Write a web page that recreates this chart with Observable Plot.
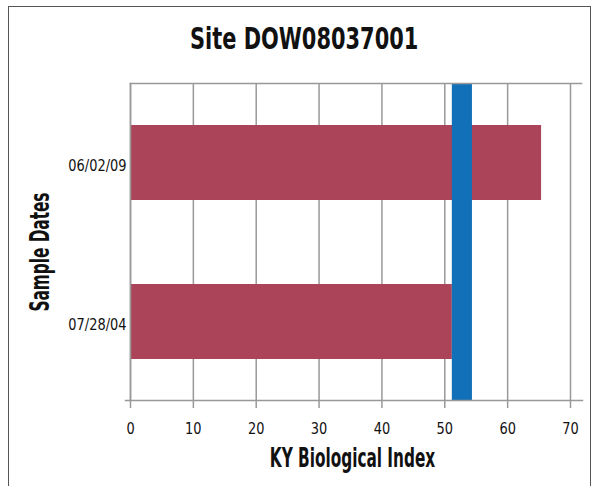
<!DOCTYPE html>
<html>
<head>
<meta charset="utf-8">
<script src="https://cdn.jsdelivr.net/npm/d3@7"></script>
<script src="https://cdn.jsdelivr.net/npm/@observablehq/plot@0.6"></script>
<style>
  html, body { margin: 0; padding: 0; background: #fff; }
  #wrap { position: relative; width: 595px; height: 486px; overflow: hidden; font-family: "DejaVu Sans Condensed", "DejaVu Sans", sans-serif; }
  #border { position: absolute; left: 8px; top: 6px; width: 583px; height: 500px; border: 1.5px solid #555; box-sizing: border-box; }
  #title { position: absolute; left: 6px; top: 18px; width: 595px; text-align: center; font-weight: bold; font-size: 31px; color: #111; line-height: 40px; transform: scaleX(0.75); transform-origin: 300px 0; }
  #chart { position: absolute; left: 0; top: 0; }
</style>
</head>
<body>
<div id="wrap">
  <div id="border"></div>
  <div id="title">Site DOW08037001</div>
  <div id="chart"></div>
</div>
<script>
const dates = ["06/02/09", "07/28/04"];
const values = [65.4, 51.2];
const bandLow = [51.2];
const bandHigh = [54.4];
const xTicks = [0, 10, 20, 30, 40, 50, 60, 70];
const xLabel = "KY Biological Index";
const yLabel = "Sample Dates";

const bars = dates.map((d, i) => ({date: d, value: values[i]}));
const band = bandLow.map((lo, i) => ({lo, hi: bandHigh[i]}));

const font = '"DejaVu Sans Condensed", "DejaVu Sans", sans-serif';

const chart = Plot.plot({
  width: 595,
  height: 486,
  marginTop: 83,
  marginBottom: 86,
  marginLeft: 130,
  marginRight: 25,
  style: {fontFamily: font, fontSize: "16px", color: "#111", background: "transparent", overflow: "visible"},
  x: {domain: [0, 70], ticks: xTicks},
  y: {domain: dates, paddingInner: 0.53, paddingOuter: 0.26},
  marks: [
    Plot.gridX(xTicks, {stroke: "#999", strokeOpacity: 1, strokeWidth: 1.5}),
    Plot.barX(bars, {x: "value", y: "date", fill: "#ab4459"}),
    Plot.rectX(band, {x1: "lo", x2: "hi", fill: "#1170b8"}),
    Plot.frame({anchor: "top", stroke: "#999", strokeWidth: 1.5, insetRight: -11}),
    Plot.frame({anchor: "left", stroke: "#999", strokeWidth: 1.5}),
    Plot.frame({anchor: "bottom", stroke: "#999", strokeWidth: 1.5, insetLeft: -5, insetRight: -12}),
    Plot.axisX(xTicks, {tickSize: 8, tickPadding: 14, stroke: "#999", strokeWidth: 1.5, fill: "#111", fontSize: 16, label: null, tickFormat: d => d}),
    Plot.axisY({tickSize: 0, tickPadding: 4, dy: 3, fill: "#111", fontSize: 16, label: null}),
    Plot.text([xLabel], {text: d => d, frameAnchor: "bottom", dy: 66, dx: 2, fontSize: 27, fontWeight: "bold", fill: "#111"}),
    Plot.text([yLabel], {text: d => d, frameAnchor: "left", textAnchor: "middle", dx: -90, dy: 10, rotate: -90, fontSize: 27, fontWeight: "bold", fill: "#111"})
  ]
});

// condense the text glyphs horizontally (the original uses a condensed face)
d3.select(chart).selectAll("text").each(function () {
  const fsAttr = this.getAttribute("font-size") || (this.parentNode && this.parentNode.getAttribute("font-size")) || "16";
  const s = parseFloat(fsAttr) >= 20 ? 0.63 : 0.9;
  const xa = this.getAttribute("x");
  const x = xa != null && isFinite(+xa) ? +xa : 0;
  if (xa != null && isFinite(+xa)) this.removeAttribute("x");
  const tr = this.getAttribute("transform") || "";
  this.setAttribute("transform", `${tr} translate(${x},0) scale(${s},1)`);
});

document.getElementById("chart").appendChild(chart);
</script>
</body>
</html>
